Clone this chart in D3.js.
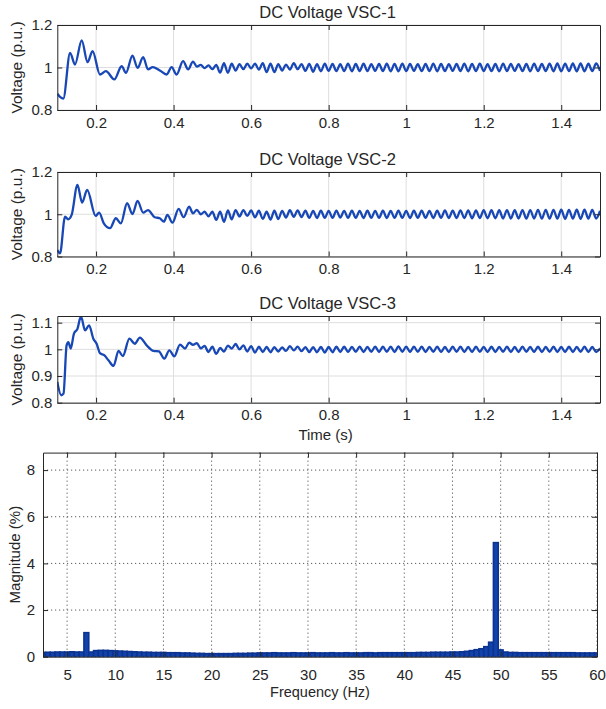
<!DOCTYPE html>
<html>
<head>
<meta charset="utf-8">
<script src="https://cdn.jsdelivr.net/npm/d3@7"></script>
<style>
  body { margin: 0; background: #fff; }
  svg { display: block; }
  text { font-family: "Liberation Sans", Arial, Helvetica, sans-serif; fill: #262626; }
</style>
</head>
<body>
<svg id="chart" width="606" height="709"></svg>
<script>
// ---- Time-domain DC voltages (p.u.) ----
// Start-up transient: [time (s), voltage (p.u.)]
const vsc1Transient = [
  [0.100,0.876],[0.107,0.862],[0.1155,0.854],[0.133,1.069],[0.1456,1.014],[0.163,1.128],
  [0.178,1.025],[0.191,1.077],[0.210,0.967],[0.2255,0.983],[0.247,0.944],[0.266,1.006],
  [0.277,0.975],[0.294,1.056],[0.307,0.998],[0.3215,1.049],[0.334,0.991],[0.346,1.002],
  [0.3645,0.986],[0.382,0.967],[0.395,1.002],[0.4075,0.967],[0.4245,1.030],[0.4375,0.991]
];
const vsc2Transient = [
  [0.100,0.831],[0.107,0.815],[0.120,0.989],[0.128,0.976],[0.137,0.997],[0.152,1.139],
  [0.164,1.055],[0.177,1.115],[0.199,0.992],[0.208,1.008],[0.220,0.957],[0.236,0.934],
  [0.251,0.981],[0.264,0.957],[0.280,1.052],[0.294,1.001],[0.307,1.063],[0.3215,1.008],
  [0.334,1.020],[0.351,0.986],[0.3645,0.981],[0.375,0.965],[0.384,0.997],[0.397,0.960],
  [0.413,1.025],[0.426,0.986],[0.440,1.036]
];
const vsc3Transient = [
  [0.100,0.878],[0.110,0.828],[0.116,0.834],[0.124,1.015],[0.1285,1.027],[0.1345,1.003],
  [0.143,1.059],[0.152,1.077],[0.161,1.124],[0.1715,1.071],[0.182,1.090],[0.193,1.040],
  [0.2015,1.021],[0.210,0.986],[0.221,0.978],[0.232,0.959],[0.245,0.938],[0.258,0.994],
  [0.269,0.975],[0.286,1.040],[0.300,1.021],[0.313,1.044],[0.3305,1.015],[0.348,0.994],
  [0.362,0.992],[0.376,0.965],[0.389,0.996],[0.402,0.974],[0.4165,1.018],[0.4295,1.003]
];

// Ripple after the transient: successive crest/trough values every 10 ms
const rippleStep = 0.01;
const vsc1RippleStart = 0.45;
const vsc1Ripple = [
  1.028,1.004,1.012,0.997,1.010,0.992,1.012,0.976,1.020,0.975,
  1.018,0.985,1.016,0.992,1.018,0.996,1.018,0.990,1.020,0.978,
  1.018,0.978,1.016,0.986,1.014,0.990,1.020,0.992,1.016,0.984,
  1.017,0.980,1.016,0.982,1.018,0.984,1.017,0.983,1.016,0.983,
  1.018,0.982,1.017,0.983,1.018,0.983,1.016,0.984,1.017,0.983,
  1.018,0.982,1.017,0.982,1.018,0.983,1.017,0.984,1.016,0.983,
  1.017,0.983,1.018,0.982,1.017,0.983,1.016,0.984,1.017,0.983,
  1.018,0.982,1.017,0.983,1.018,0.983,1.016,0.983,1.017,0.982,
  1.018,0.983,1.017,0.984,1.016,0.983,1.017,0.982,1.018,0.983,
  1.017,0.983,1.018,0.982,1.019,0.982,1.018,0.983,1.019,0.982,
  1.019,0.982,1.018,0.983,1.019,0.984
];
const vsc2RippleStart = 0.45;
const vsc2Ripple = [
  1.004,1.021,1.000,1.012,0.990,1.012,0.973,1.012,0.964,1.018,
  0.976,1.020,0.990,1.020,0.992,1.018,0.985,1.017,0.978,1.012,
  0.975,1.017,0.977,1.016,0.984,1.019,0.988,1.018,0.986,1.017,
  0.983,1.016,0.982,1.017,0.983,1.016,0.983,1.017,0.984,1.016,
  0.983,1.017,0.983,1.016,0.982,1.017,0.983,1.016,0.983,1.017,
  0.982,1.016,0.983,1.017,0.983,1.016,0.982,1.017,0.983,1.017,
  0.983,1.016,0.982,1.017,0.983,1.018,0.982,1.017,0.982,1.018,
  0.982,1.018,0.981,1.018,0.982,1.019,0.981,1.019,0.981,1.019,
  0.980,1.020,0.980,1.019,0.980,1.020,0.979,1.020,0.980,1.021,
  0.979,1.021,0.979,1.021,0.979,1.022,0.978,1.021,0.979,1.022,
  0.978,1.022,0.979,1.021,0.980,1.016
];
const vsc3RippleStart = 0.44;
const vsc3Ripple = [
  1.025,1.017,1.023,1.004,1.013,0.990,1.010,0.983,1.005,0.992,
  1.014,1.003,1.020,1.000,1.015,0.992,1.012,0.988,1.010,0.990,
  1.009,0.989,1.008,0.992,1.007,0.994,1.012,0.996,1.010,0.993,
  1.008,0.990,1.008,0.989,1.009,0.988,1.009,0.989,1.010,0.990,
  1.010,0.990,1.009,0.991,1.010,0.990,1.009,0.991,1.010,0.990,
  1.010,0.991,1.010,0.990,1.011,0.991,1.010,0.990,1.010,0.991,
  1.010,0.990,1.009,0.991,1.010,0.990,1.009,0.990,1.010,0.991,
  1.010,0.990,1.009,0.990,1.010,0.991,1.009,0.990,1.010,0.990,
  1.009,0.991,1.010,0.990,1.009,0.990,1.010,0.991,1.009,0.990,
  1.010,0.990,1.009,0.991,1.010,0.990,1.009,0.990,1.010,0.990,
  1.009,0.991,1.010,0.990,1.009,0.990,1.004
];

const timeTicks = [0.2, 0.4, 0.6, 0.8, 1, 1.2, 1.4];
const voltTicksA = [0.8, 1, 1.2];
const voltTicksB = [0.8, 0.9, 1, 1.1];

// ---- FFT of the DC voltage: 0.5 Hz bins from 2.5 Hz to 60 Hz ----
const fftStartHz = 2.5;
const fftBinHz = 0.5;
const fftMagnitude = [
  0.18,0.19,0.19,0.20,0.20,0.20,0.21,0.20,0.20,1.03,   // 2.5 - 7.0
  0.20,0.26,0.27,0.27,0.26,0.25,0.24,0.23,0.22,0.21,   // 7.5 - 12.0
  0.20,0.19,0.19,0.18,0.18,0.18,0.17,0.17,0.17,0.16,   // 12.5 - 17.0
  0.16,0.15,0.14,0.14,0.13,0.13,0.13,0.13,0.13,0.13,   // 17.5 - 22.0
  0.14,0.14,0.14,0.15,0.15,0.16,0.16,0.16,0.17,0.16,   // 22.5 - 27.0
  0.16,0.16,0.17,0.16,0.16,0.16,0.17,0.16,0.16,0.16,   // 27.5 - 32.0
  0.17,0.16,0.16,0.17,0.16,0.16,0.16,0.17,0.17,0.16,   // 32.5 - 37.0
  0.17,0.17,0.17,0.17,0.17,0.17,0.17,0.17,0.18,0.18,   // 37.5 - 42.0
  0.18,0.19,0.19,0.19,0.19,0.20,0.20,0.21,0.23,0.26,   // 42.5 - 47.0
  0.30,0.34,0.43,0.62,4.89,0.29,0.20,0.18,0.18,0.17,   // 47.5 - 52.0
  0.17,0.17,0.17,0.17,0.17,0.17,0.17,0.17,0.17,0.17,   // 52.5 - 57.0
  0.17,0.16,0.16,0.16,0.16,0.16                        // 57.5 - 60.0
];
const freqTicks = [5, 10, 15, 20, 25, 30, 35, 40, 45, 50, 55, 60];
const magTicks = [0, 2, 4, 6, 8];

// ---- drawing ----
const svg = d3.select("#chart");
const ink = "#262626";
const lineBlue = "#1847b6";
const plotL = 57.3, plotR = 600;

const voltagePanels = [
  { title: "DC Voltage VSC-1", top: 25, bottom: 110, yDomain: [0.8, 1.2], yTicks: voltTicksA,
    transient: vsc1Transient, ripple: vsc1Ripple, rippleStart: vsc1RippleStart },
  { title: "DC Voltage VSC-2", top: 172, bottom: 256.5, yDomain: [0.8, 1.2], yTicks: voltTicksA,
    transient: vsc2Transient, ripple: vsc2Ripple, rippleStart: vsc2RippleStart },
  { title: "DC Voltage VSC-3", top: 316, bottom: 402.7, yDomain: [0.8, 1.125], yTicks: voltTicksB,
    transient: vsc3Transient, ripple: vsc3Ripple, rippleStart: vsc3RippleStart, xLabel: "Time (s)" }
];

function styleAxis(g) {
  g.select(".domain").attr("stroke", ink).attr("stroke-width", 1);
  g.selectAll(".tick line").attr("stroke", ink).attr("stroke-width", 1);
  g.selectAll(".tick text").attr("fill", ink).style("font-size", "15px")
    .style("font-family", '"Liberation Sans", Arial, sans-serif');
}

voltagePanels.forEach((p, idx) => {
  const x = d3.scaleLinear().domain([0.1, 1.5]).range([plotL, plotR]);
  const y = d3.scaleLinear().domain(p.yDomain).range([p.bottom, p.top]);
  const g = svg.append("g");

  // grid
  g.append("g").selectAll("line").data(timeTicks).join("line")
    .attr("x1", d => x(d)).attr("x2", d => x(d))
    .attr("y1", p.top).attr("y2", p.bottom)
    .attr("stroke", "#dedede").attr("stroke-width", 1);
  g.append("g").selectAll("line").data(p.yTicks).join("line")
    .attr("x1", plotL).attr("x2", plotR)
    .attr("y1", d => y(d)).attr("y2", d => y(d))
    .attr("stroke", "#dedede").attr("stroke-width", 1);

  // voltage trace
  const clipId = "clipV" + idx;
  svg.append("clipPath").attr("id", clipId).append("rect")
    .attr("x", plotL).attr("y", p.top).attr("width", plotR - plotL).attr("height", p.bottom - p.top);
  const series = p.transient.concat(p.ripple.map((v, i) => [p.rippleStart + i * rippleStep, v]));
  g.append("path").datum(series)
    .attr("clip-path", `url(#${clipId})`)
    .attr("fill", "none").attr("stroke", lineBlue).attr("stroke-width", 2.3)
    .attr("stroke-linejoin", "round")
    .attr("d", d3.line().x(d => x(d[0])).y(d => y(d[1])).curve(d3.curveMonotoneX));

  // axes on all four sides, ticks pointing inwards
  g.append("g").attr("transform", `translate(0,${p.bottom})`)
    .call(d3.axisBottom(x).tickValues(timeTicks).tickSizeInner(-5).tickSizeOuter(0).tickPadding(7)
      .tickFormat(d3.format("~g"))).call(styleAxis);
  g.append("g").attr("transform", `translate(0,${p.top})`)
    .call(d3.axisTop(x).tickValues(timeTicks).tickSizeInner(-5).tickSizeOuter(0).tickFormat(""))
    .call(styleAxis);
  g.append("g").attr("transform", `translate(${plotL},0)`)
    .call(d3.axisLeft(y).tickValues(p.yTicks).tickSizeInner(-5).tickSizeOuter(0).tickPadding(5)
      .tickFormat(d3.format("~g"))).call(styleAxis);
  g.append("g").attr("transform", `translate(${plotR},0)`)
    .call(d3.axisRight(y).tickValues(p.yTicks).tickSizeInner(-5).tickSizeOuter(0).tickFormat(""))
    .call(styleAxis);

  // title and labels
  g.append("text").attr("x", (plotL + plotR) / 2 - 1).attr("y", p.top - 7.5)
    .attr("text-anchor", "middle").style("font-size", "16.5px").attr("fill", "#111")
    .text(p.title);
  g.append("text").attr("transform", `translate(22,${(p.top + p.bottom) / 2}) rotate(-90)`)
    .attr("text-anchor", "middle").style("font-size", "15.5px").text("Voltage (p.u.)");
  if (p.xLabel) {
    g.append("text").attr("x", (plotL + plotR) / 2 - 3).attr("y", p.bottom + 37.5)
      .attr("text-anchor", "middle").style("font-size", "15px").text(p.xLabel);
  }
});

// ---- spectrum panel ----
(function () {
  const L = 43, R = 597, T = 452.6, B = 656.7;
  const x = d3.scaleLinear().domain([2.5, 60]).range([L, R]);
  const y = d3.scaleLinear().domain([0, 8.75]).range([B, T]);
  const g = svg.append("g");

  const gridStyle = sel => sel.attr("stroke", "#5a5a5a").attr("stroke-width", 1)
    .attr("stroke-dasharray", "1.2,2.8");
  g.append("g").selectAll("line").data(freqTicks).join("line")
    .attr("x1", d => x(d)).attr("x2", d => x(d)).attr("y1", T).attr("y2", B).call(gridStyle);
  g.append("g").selectAll("line").data(magTicks).join("line")
    .attr("x1", L).attr("x2", R).attr("y1", d => y(d)).attr("y2", d => y(d)).call(gridStyle);

  svg.append("clipPath").attr("id", "clipF").append("rect")
    .attr("x", L).attr("y", T).attr("width", R - L).attr("height", B - T);
  const bins = fftMagnitude.map((m, i) => ({ f: fftStartHz + i * fftBinHz, m }));
  g.append("g").attr("clip-path", "url(#clipF)")
    .selectAll("rect").data(bins).join("rect")
    .attr("x", d => x(d.f - fftBinHz / 2))
    .attr("width", d => x(d.f + fftBinHz / 2) - x(d.f - fftBinHz / 2))
    .attr("y", d => y(d.m))
    .attr("height", d => B - y(d.m))
    .attr("fill", "#1243ab").attr("stroke", "#0b338f").attr("stroke-width", 1.6);

  g.append("g").attr("transform", `translate(0,${B})`)
    .call(d3.axisBottom(x).tickValues(freqTicks).tickSizeInner(-5).tickSizeOuter(0).tickPadding(13))
    .call(styleAxis);
  g.append("g").attr("transform", `translate(0,${T})`)
    .call(d3.axisTop(x).tickValues(freqTicks).tickSizeInner(-5).tickSizeOuter(0).tickFormat(""))
    .call(styleAxis);
  g.append("g").attr("transform", `translate(${L},0)`)
    .call(d3.axisLeft(y).tickValues(magTicks).tickSizeInner(-5).tickSizeOuter(0).tickPadding(8))
    .call(styleAxis);
  g.append("g").attr("transform", `translate(${R},0)`)
    .call(d3.axisRight(y).tickValues(magTicks).tickSizeInner(-5).tickSizeOuter(0).tickFormat(""))
    .call(styleAxis);

  g.append("text").attr("transform", `translate(20,${(T + B) / 2}) rotate(-90)`)
    .attr("text-anchor", "middle").style("font-size", "15px").text("Magnitude (%)");
  g.append("text").attr("x", (L + R) / 2).attr("y", 697)
    .attr("text-anchor", "middle").style("font-size", "14.5px").text("Frequency (Hz)");
})();
</script>
</body>
</html>
